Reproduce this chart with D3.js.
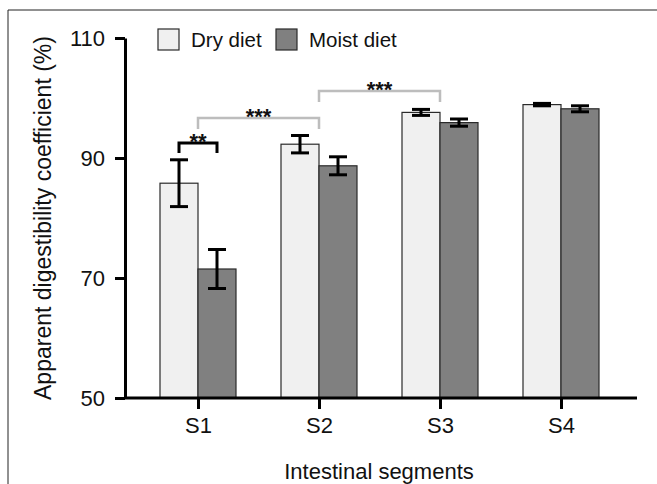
<!DOCTYPE html>
<html>
<head>
<meta charset="utf-8">
<script src="https://cdn.jsdelivr.net/npm/d3@7"></script>
<style>
  body { margin: 0; background: #fff; }
  svg text { font-family: "Liberation Sans", Arial, sans-serif; fill: #111; }
</style>
</head>
<body>
<svg id="chart"></svg>
<script>
// values
const segments = ["S1", "S2", "S3", "S4"];
const dryMean = [85.8, 92.3, 97.6, 98.9];
const dryErr = [3.9, 1.45, 0.5, 0.2];
const moistMean = [71.5, 88.7, 95.9, 98.2];
const moistErr = [3.25, 1.5, 0.6, 0.5];
const yTicks = [50, 70, 90, 110];
const seriesNames = ["Dry diet", "Moist diet"];
// significance brackets: [from, to, label, level]
const brackets = [
  [{ seg: "S1", s: 0 }, { seg: "S1", s: 1 }, "**", 152],
  [{ seg: "S1", s: -1 }, { seg: "S2", s: -1 }, "***", 118],
  [{ seg: "S2", s: -1 }, { seg: "S3", s: -1 }, "***", 91]
];

const width = 657, height = 484;
const barW = 38;
const fills = ["#f0f0f0", "#808080"];

const svg = d3.select("#chart")
  .attr("width", width)
  .attr("height", height)
  .attr("viewBox", [0, 0, width, height]);

// frame lines (top and left only)
svg.append("path")
  .attr("d", `M8,${height}V10H${width}`)
  .attr("fill", "none")
  .attr("stroke", "#222")
  .attr("stroke-width", 1);

const x = d3.scalePoint().domain(segments).range([198, 561]);
const y = d3.scaleLinear().domain([50, 110]).range([398, 38]);

const rows = segments.map((s, i) => [
  { seg: s, k: 0, v: dryMean[i], e: dryErr[i] },
  { seg: s, k: 1, v: moistMean[i], e: moistErr[i] }
]).flat();

const barX = d => d.k === 0 ? x(d.seg) - barW : x(d.seg);

// bars
svg.append("g")
  .selectAll("rect")
  .data(rows)
  .join("rect")
  .attr("x", barX)
  .attr("y", d => y(d.v))
  .attr("width", barW)
  .attr("height", d => y(50) - y(d.v))
  .attr("fill", d => fills[d.k])
  .attr("stroke", "#2a2a2a")
  .attr("stroke-width", 1.2);

// error bars
const eb = svg.append("g").attr("stroke", "#000").attr("stroke-width", 3);
rows.forEach(d => {
  const cx = barX(d) + barW / 2;
  eb.append("line").attr("x1", cx).attr("x2", cx).attr("y1", y(d.v + d.e)).attr("y2", y(d.v - d.e));
  eb.append("line").attr("x1", cx - 9).attr("x2", cx + 9).attr("y1", y(d.v + d.e)).attr("y2", y(d.v + d.e));
  eb.append("line").attr("x1", cx - 9).attr("x2", cx + 9).attr("y1", y(d.v - d.e)).attr("y2", y(d.v - d.e));
});

// axes
const yAxis = svg.append("g")
  .attr("transform", "translate(125,0)")
  .call(d3.axisLeft(y).tickValues(yTicks).tickSize(10).tickPadding(10).tickSizeOuter(0));
const xAxis = svg.append("g")
  .attr("transform", `translate(0,${y(50)})`)
  .call(d3.axisBottom(x).tickSize(11).tickPadding(8).tickSizeOuter(0));
xAxis.select(".domain").attr("d", "M125,0H637");
[yAxis, xAxis].forEach(g => {
  g.selectAll("path, line").attr("stroke", "#000").attr("stroke-width", 3);
  g.selectAll("text").attr("font-size", 22).attr("fill", "#111")
    .attr("font-family", "'Liberation Sans', Arial, sans-serif");
});
xAxis.selectAll("text").attr("dy", "0.71em");

// axis titles
svg.append("text")
  .attr("transform", "translate(51,218) rotate(-90)")
  .attr("text-anchor", "middle")
  .attr("font-size", 23)
  .text("Apparent digestibility coefficient (%)");
svg.append("text")
  .attr("x", 379)
  .attr("y", 479)
  .attr("text-anchor", "middle")
  .attr("font-size", 22)
  .text("Intestinal segments");

// significance brackets
const bx = p => p.s === -1 ? x(p.seg) : x(p.seg) + (p.s === 0 ? -barW / 2 : barW / 2);
brackets.forEach(([a, b, lab, yy]) => {
  const black = lab === "**";
  const x1 = bx(a), x2 = bx(b);
  const drop = black ? 10 : 11;
  const top = black ? yy - 9 : yy;
  svg.append("path")
    .attr("d", `M${x1},${top + drop}V${top}H${x2}V${top + drop}`)
    .attr("fill", "none")
    .attr("stroke", black ? "#000" : "#bdbdbd")
    .attr("stroke-width", black ? 3 : 2.5);
  svg.append("text")
    .attr("x", (x1 + x2) / 2)
    .attr("y", top + 6)
    .attr("text-anchor", "middle")
    .attr("font-size", 22)
    .attr("font-weight", "bold")
    .text(lab);
});

// legend
const lg = svg.append("g");
const legX = [158, 276];
seriesNames.forEach((n, i) => {
  lg.append("rect")
    .attr("x", legX[i]).attr("y", 29)
    .attr("width", 21).attr("height", 21)
    .attr("fill", fills[i])
    .attr("stroke", "#2a2a2a")
    .attr("stroke-width", 1.2);
  lg.append("text")
    .attr("x", legX[i] + 33)
    .attr("y", 47)
    .attr("font-size", 20.5)
    .text(n);
});
</script>
</body>
</html>
